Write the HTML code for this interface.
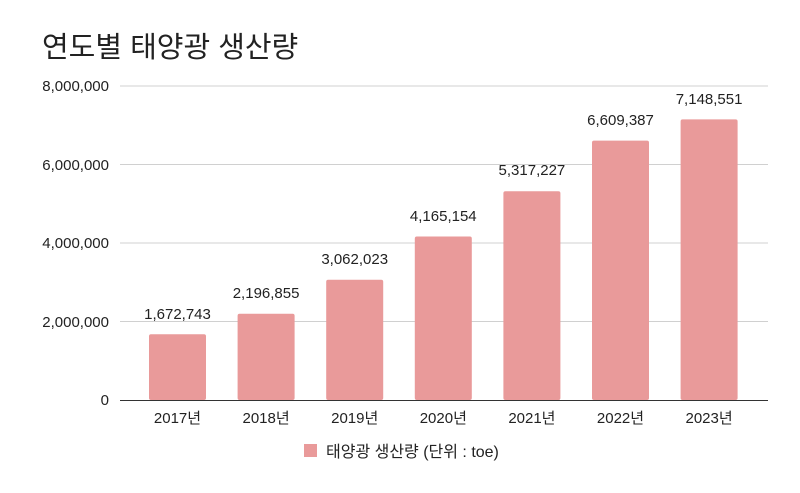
<!DOCTYPE html>
<html><head><meta charset="utf-8"><style>
body{margin:0;background:#fff;}
svg{display:block;font-family:"Liberation Sans","Noto Sans CJK KR",sans-serif;}
</style></head><body>
<svg width="800" height="493" viewBox="0 0 800 493">
<rect width="800" height="493" fill="#fff"/>
<text x="42" y="57" font-size="29" fill="#222">연도별 태양광 생산량</text>
<g stroke="#d0d0d0" stroke-width="1">
<line x1="120" y1="86" x2="768" y2="86"/>
<line x1="120" y1="164.5" x2="768" y2="164.5"/>
<line x1="120" y1="243" x2="768" y2="243"/>
<line x1="120" y1="321.5" x2="768" y2="321.5"/>
</g>
<g font-size="15" fill="#222" text-anchor="end">
<text x="109" y="91">8,000,000</text>
<text x="109" y="170">6,000,000</text>
<text x="109" y="248">4,000,000</text>
<text x="109" y="327">2,000,000</text>
<text x="109" y="405">0</text>
</g>
<g fill="#e99a9a">
<rect x="149" y="334.3" width="57" height="65.7" rx="2"/>
<rect x="237.6" y="313.8" width="57" height="86.2" rx="2"/>
<rect x="326.2" y="279.8" width="57" height="120.2" rx="2"/>
<rect x="414.8" y="236.5" width="57" height="163.5" rx="2"/>
<rect x="503.4" y="191.3" width="57" height="208.7" rx="2"/>
<rect x="592" y="140.6" width="57" height="259.4" rx="2"/>
<rect x="680.6" y="119.4" width="57" height="280.6" rx="2"/>
</g>
<line x1="120" y1="400.5" x2="768" y2="400.5" stroke="#333" stroke-width="1"/>
<g font-size="15" fill="#222" text-anchor="middle">
<text x="177.5" y="319">1,672,743</text>
<text x="266.1" y="298">2,196,855</text>
<text x="354.7" y="264">3,062,023</text>
<text x="443.3" y="221">4,165,154</text>
<text x="531.9" y="175">5,317,227</text>
<text x="620.5" y="125">6,609,387</text>
<text x="709.1" y="104">7,148,551</text>
</g>
<g font-size="15" fill="#222" text-anchor="middle">
<text x="177.5" y="423">2017년</text>
<text x="266.1" y="423">2018년</text>
<text x="354.7" y="423">2019년</text>
<text x="443.3" y="423">2020년</text>
<text x="531.9" y="423">2021년</text>
<text x="620.5" y="423">2022년</text>
<text x="709.1" y="423">2023년</text>
</g>
<rect x="304" y="444" width="13" height="13" fill="#e99a9a"/>
<text x="326" y="457" font-size="16" fill="#222">태양광 생산량 (단위 : toe)</text>
</svg>
</body></html>
